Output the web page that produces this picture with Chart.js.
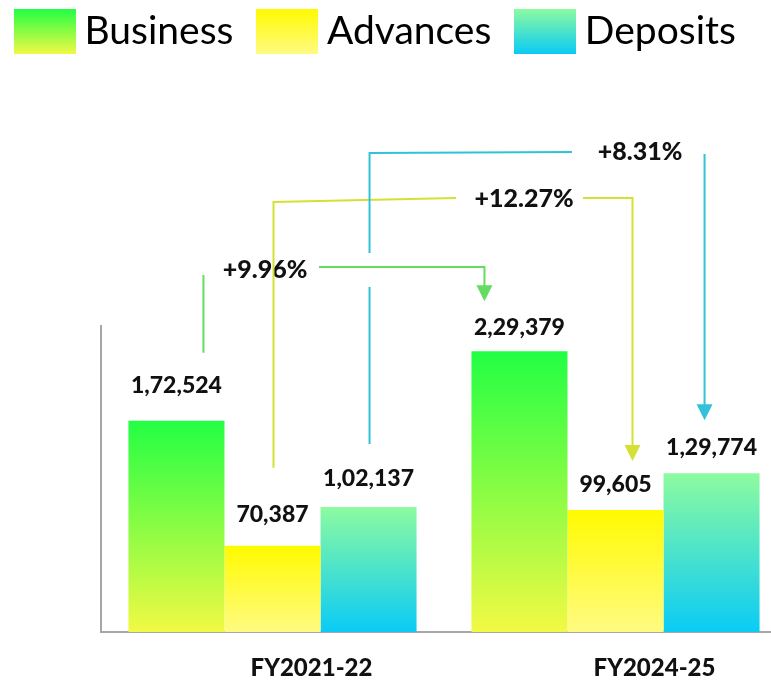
<!DOCTYPE html>
<html lang="en">
<head>
   <meta charset="UTF-8">
   <title>Business, Advances and Deposits</title>
   <script src="https://cdn.jsdelivr.net/npm/chart.js"></script>
   <style>
       body { margin: 0; background: #fff; }
       #wrap { width: 771px; height: 682px; overflow: hidden; }
   </style>
</head>
<body>
   <div id="wrap"><canvas id="growth-chart" width="787" height="682"></canvas></div>

   <script>
    const years = ["FY2021-22", "FY2024-25"];
    const seriesNames = ["Business", "Advances", "Deposits"];
    const business = [172524, 229379];
    const advances = [70387, 99605];
    const deposits = [102137, 129774];
    const growthLabels = ["+9.96%", "+12.27%", "+8.31%"];

    // top / bottom colours of each bar gradient
    const fills = [
        ["#22ff44", "#f2f944"],
        ["#fffa00", "#fffb82"],
        ["#8dfba0", "#0acbf6"]
    ];

    // gap between bar top and the centre of its value label (px)
    const labelGaps = [[36, 25], [32, 26], [29, 26]];

    // elbow connectors: left leg sits over the FY21 bar, arrow lands over the FY25 bar
    const connectors = [
        { ds: 0, color: "#62dc62", dxL: 27, gapL: 68, legTop: 275, level: 267, textX: 265, textY: 269,
          lineFrom: 319, dxR: -35, gapR: 50 },
        { ds: 1, color: "#d5e034", dxL: 1, gapL: 78, levelL: 202, level: 198, leftTo: 456, textX: 524, textY: 198,
          lineFrom: 583, dxR: 17, gapR: 49 },
        { ds: 2, color: "#31c2d9", dxL: 1, gapL: 63, levelL: 153, level: 152, leftTo: 572, textX: 640, textY: 151,
          gap: [253, 287], rightTop: 154, dxR: -7, gapR: 53 }
    ];

    function indian(n) {
        let s = String(n);
        if (s.length <= 3) return s;
        let last = s.slice(-3), rest = s.slice(0, -3);
        rest = rest.replace(/\B(?=(\d{2})+(?!\d))/g, ",");
        return rest + "," + last;
    }

    function barFill(context, idx) {
        const y = context.chart.scales.y;
        if (!y || context.raw === undefined) return fills[idx][0];
        const top = y.getPixelForValue(context.raw);
        const base = y.getPixelForValue(0);
        if (!isFinite(top) || !isFinite(base) || top === base) return fills[idx][0];
        const g = context.chart.ctx.createLinearGradient(0, top, 0, base);
        g.addColorStop(0, fills[idx][0]);
        g.addColorStop(1, fills[idx][1]);
        return g;
    }

    // legend swatches as small gradient images
    const swatches = fills.map(f => {
        const c = document.createElement("canvas");
        c.width = 62; c.height = 45;
        const x = c.getContext("2d");
        const g = x.createLinearGradient(0, 0, 0, 45);
        g.addColorStop(0, f[0]);
        g.addColorStop(1, f[1]);
        x.fillStyle = g;
        x.fillRect(0, 0, 62, 45);
        return c;
    });

    const legendSpacer = {
        id: "legendSpacer",
        beforeInit(chart) {
            const fit = chart.legend.fit;
            chart.legend.fit = function () {
                fit.call(this);
                this.height = 348;
            };
        }
    };

    const annotations = {
        id: "annotations",
        afterDatasetsDraw(chart) {
            const ctx = chart.ctx;
            ctx.save();

            // value labels
            ctx.fillStyle = "#111";
            ctx.font = "900 23px Lato";
            ctx.textAlign = "center";
            ctx.textBaseline = "alphabetic";
            chart.data.datasets.forEach((ds, d) => {
                chart.getDatasetMeta(d).data.forEach((bar, i) => {
                    ctx.fillText(indian(ds.data[i]), bar.x, bar.y - labelGaps[d][i] + 8.3);
                });
            });

            // growth connectors
            connectors.forEach((c, i) => {
                const bars = chart.getDatasetMeta(c.ds).data;
                const xL = bars[0].x + c.dxL, yL = bars[0].y - c.gapL;
                const xR = bars[1].x + c.dxR, tip = bars[1].y - c.gapR;

                ctx.strokeStyle = c.color;
                ctx.fillStyle = c.color;
                ctx.lineWidth = 2;

                ctx.beginPath();
                if (c.leftTo) {
                    if (c.gap) {
                        ctx.moveTo(xL, yL);
                        ctx.lineTo(xL, c.gap[1]);
                        ctx.moveTo(xL, c.gap[0]);
                    } else {
                        ctx.moveTo(xL, yL);
                    }
                    ctx.lineTo(xL, c.levelL);
                    ctx.lineTo(c.leftTo, c.level);
                } else {
                    ctx.moveTo(xL, yL);
                    ctx.lineTo(xL, c.legTop);
                }
                if (c.lineFrom) {
                    ctx.moveTo(c.lineFrom, c.level);
                    ctx.lineTo(xR, c.level);
                } else {
                    ctx.moveTo(xR, c.rightTop);
                }
                ctx.lineTo(xR, tip - 15);
                ctx.stroke();

                ctx.beginPath();
                ctx.moveTo(xR - 8, tip - 16);
                ctx.lineTo(xR + 8, tip - 16);
                ctx.lineTo(xR, tip);
                ctx.closePath();
                ctx.fill();

                ctx.fillStyle = "#111";
                ctx.font = "900 25px Lato";
                ctx.fillText(growthLabels[i], c.textX, c.textY + 9);
            });
            ctx.restore();
        }
    };

    const data = [business, advances, deposits];

    new Chart(document.getElementById("growth-chart"), {
        type: "bar",
        data: {
            labels: years,
            datasets: seriesNames.map((name, i) => ({
                label: name,
                data: data[i],
                backgroundColor: ctx => barFill(ctx, i),
                borderWidth: 0,
                categoryPercentage: 0.84,
                barPercentage: 1
            }))
        },
        options: {
            responsive: false,
            animation: false,
            layout: { padding: { top: -22, left: -9, right: 0, bottom: 0 } },
            plugins: {
                tooltip: { enabled: false },
                legend: {
                    position: "top",
                    align: "start",
                    labels: {
                        usePointStyle: true,
                        pointStyleWidth: 40,
                        padding: 34,
                        color: "#000",
                        font: { family: "Lato", size: 39 },
                        generateLabels(chart) {
                            const items = Chart.defaults.plugins.legend.labels.generateLabels(chart);
                            items.forEach((it, i) => { it.pointStyle = swatches[i]; });
                            return items;
                        }
                    }
                }
            },
            scales: {
                x: {
                    grid: { display: false },
                    border: { color: "#a6a6a6", width: 2 },
                    ticks: {
                        color: "#111",
                        font: { family: "Lato", size: 24, weight: "900" },
                        labelOffset: 39,
                        padding: 14
                    },
                    afterFit(scale) { scale.height = 50; }
                },
                y: {
                    min: 0,
                    max: 250000,
                    grid: { display: false },
                    border: { color: "#a6a6a6", width: 2 },
                    ticks: { display: false },
                    afterFit(scale) { scale.width = 110; }
                }
            }
        },
        plugins: [legendSpacer, annotations]
    });
   </script>
</body>
</html>
